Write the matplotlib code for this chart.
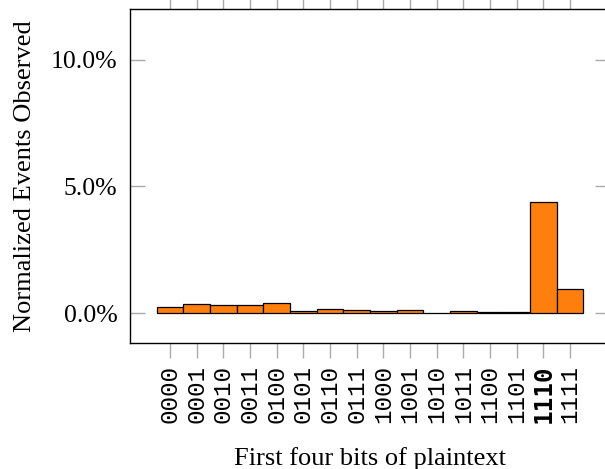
import matplotlib
matplotlib.use("Agg")
import matplotlib.pyplot as plt
import numpy as np

# 数据（百分比）
codes = ['0000', '0001', '0010', '0011', '0100', '0101', '0110', '0111',
         '1000', '1001', '1010', '1011', '1100', '1101', '1110', '1111']
events = [0.24, 0.35, 0.31, 0.31, 0.39, 0.10, 0.17, 0.13,
          0.10, 0.14, 0.00, 0.08, 0.03, 0.06, 4.37, 0.94]
yticks = [0.0, 5.0, 10.0]
highlight = '1110'

plt.rcParams['font.family'] = ['Liberation Serif', 'DejaVu Serif']

fig = plt.figure(figsize=(6.05, 4.69), dpi=100)
ax = fig.add_axes([130 / 605, 126 / 469, 480 / 605, 334 / 469])

x = np.arange(len(codes))
ax.bar(x, events, width=1.0, color='#ff7f0e', edgecolor='black', linewidth=0.9, zorder=2)

ax.set_xlim(-1.5, len(codes) + 0.5)
ax.set_ylim(-1.18, 12.0)

ax.set_yticks(yticks)
ax.set_yticklabels(['%.1f%%' % v for v in yticks], fontsize=18.5)
ax.set_xticks(x)
ax.set_xticklabels(codes, rotation=90, fontsize=17.5, family='Liberation Mono')
for lab in ax.get_xticklabels():
    if lab.get_text() == highlight:
        lab.set_fontweight('bold')
        lab.set_family('DejaVu Sans Mono')

ax.tick_params(axis='y', direction='in', left=True, right=True, length=11,
               color='#aaaaaa', width=1.0, pad=9)
ax.tick_params(axis='x', direction='out', top=True, bottom=True, length=11,
               color='#aaaaaa', width=1.0, pad=4.5)

for s in ax.spines.values():
    s.set_linewidth(1.0)

ax.set_ylabel('Normalized Events Observed', fontsize=19)
ax.yaxis.set_label_coords(-0.195, 0.5)
ax.set_xlabel('First four bits of plaintext', fontsize=19)
ax.xaxis.set_label_coords(0.5, -0.312)

fig.savefig('out.png', dpi=100)
